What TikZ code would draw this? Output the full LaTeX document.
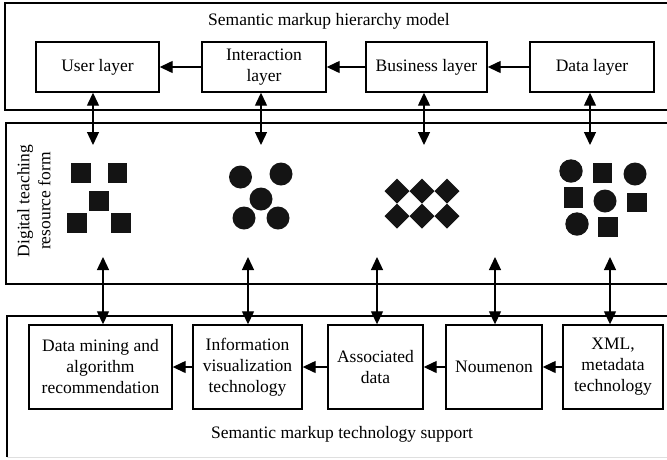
\documentclass[tikz,border=0pt]{standalone}
\usepackage{fontspec}
\setmainfont{Liberation Serif}
\usetikzlibrary{arrows.meta}

\tikzset{
  frame/.style={draw=black, line width=1.5pt},
  layerbox/.style={draw=black, line width=1.4pt, minimum height=50pt, align=center,
    inner sep=2pt, font=\fontsize{17.5}{21}\selectfont},
  techbox/.style={draw=black, line width=1.4pt, minimum height=84pt, align=center,
    inner sep=2pt, font=\fontsize{17.5}{21}\selectfont},
  caption/.style={align=center, inner sep=0pt, font=\fontsize{17.5}{21}\selectfont},
  flow/.style={line width=1.3pt, -{Triangle[length=13pt,width=12pt]}},
  dbl/.style={line width=1.3pt, {Triangle[length=13pt,width=12pt]}-{Triangle[length=13pt,width=12pt]}},
  shapefill/.style={fill=black!92}
}

\begin{document}
\begin{tikzpicture}[x=1pt, y=-1pt]
\useasboundingbox (0,0) rectangle (667,459);
\clip (0,0) rectangle (667,459);

% three horizontal bands
\draw[frame] (690,3) -- (5,3) -- (5,110) -- (690,110);
\draw[frame] (690,123) -- (6,123) -- (6,284) -- (690,284);
\draw[frame] (690,316) -- (7,316) -- (7,457);
\draw[gray!25, line width=0.8pt] (7,457) -- (690,457);

% band 1: hierarchy model
\node[caption] (title) at (329,21) {Semantic markup hierarchy model};
\node[layerbox, minimum width=123pt] (user) at (97.5,67) {User layer};
\node[layerbox, minimum width=124pt] (inter) at (264,67) {Interaction\\layer};
\node[layerbox, minimum width=121pt] (busi) at (426.5,67) {Business layer};
\node[layerbox, minimum width=124pt] (data) at (592,67) {Data layer};

\draw[flow] (data) -- (busi);
\draw[flow] (busi) -- (inter);
\draw[flow] (inter) -- (user);

% band 2: resource forms
\node[caption, rotate=90] (form) at (34,201) {Digital teaching\\resource form};

% squares
\fill[shapefill] (71,163) rectangle (91,183);
\fill[shapefill] (108,163) rectangle (127,183);
\fill[shapefill] (89,191) rectangle (109,211);
\fill[shapefill] (67,213) rectangle (87,233);
\fill[shapefill] (111,213) rectangle (131,233);

% circles
\fill[shapefill] (240.5,177) circle (11.5pt);
\fill[shapefill] (281,174) circle (11.5pt);
\fill[shapefill] (261,199) circle (11.5pt);
\fill[shapefill] (244,218) circle (11.5pt);
\fill[shapefill] (278,218) circle (11.5pt);

% diamonds
\foreach \cx in {397,422,447}{
  \foreach \cy in {191,216}{
    \fill[shapefill] (\cx,\cy-12.5) -- (\cx+12.5,\cy) -- (\cx,\cy+12.5) -- (\cx-12.5,\cy) -- cycle;
  }
}

% mixed group
\fill[shapefill] (571,171) circle (11.7pt);
\fill[shapefill] (593,163) rectangle (612,183);
\fill[shapefill] (635,174) circle (11.5pt);
\fill[shapefill] (564,187) rectangle (583,208);
\fill[shapefill] (605,201) circle (11.5pt);
\fill[shapefill] (627,193) rectangle (647,212);
\fill[shapefill] (577,224) circle (11.7pt);
\fill[shapefill] (598,217) rectangle (618,237);

% band 3: technology support
\node[techbox, minimum width=143pt] (mining) at (100.5,367) {Data mining and\\algorithm\\recommendation};
\node[techbox, minimum width=109pt] (visual) at (247.5,367) {Information\\visualization\\technology};
\node[techbox, minimum width=95pt] (assoc) at (375.5,367) {Associated\\data};
\node[techbox, minimum width=96pt] (noum) at (494,367) {Noumenon};
\node[techbox, minimum width=100pt] (xml) at (613,367) {XML,\\metadata\\technology};
\node[caption] (support) at (342,434) {Semantic markup technology support};

\draw[flow] (xml) -- (noum);
\draw[flow] (noum) -- (assoc);
\draw[flow] (assoc) -- (visual);
\draw[flow] (visual) -- (mining);

% links between bands
\coordinate (t1) at (93,145);
\coordinate (t2) at (261,145);
\coordinate (t3) at (424,145);
\coordinate (t4) at (590,145);
\draw[dbl] (t1) -- (t1 |- user.south);
\draw[dbl] (t2) -- (t2 |- inter.south);
\draw[dbl] (t3) -- (t3 |- busi.south);
\draw[dbl] (t4) -- (t4 |- data.south);

\coordinate (b1) at (103,257);
\coordinate (b2) at (248,257);
\coordinate (b3) at (377,257);
\coordinate (b4) at (495,257);
\coordinate (b5) at (610,257);
\draw[dbl] (b1) -- (b1 |- mining.north);
\draw[dbl] (b2) -- (b2 |- visual.north);
\draw[dbl] (b3) -- (b3 |- assoc.north);
\draw[dbl] (b4) -- (b4 |- noum.north);
\draw[dbl] (b5) -- (b5 |- xml.north);
\end{tikzpicture}
\end{document}
